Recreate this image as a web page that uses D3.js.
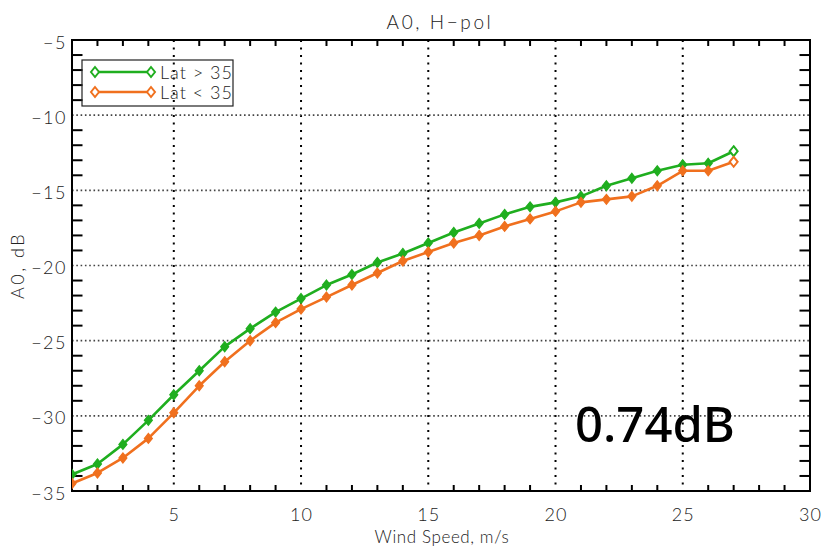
<!DOCTYPE html>
<html>
<head>
<meta charset="utf-8">
<script src="https://cdn.jsdelivr.net/npm/d3@7"></script>
<style>
  html, body { margin: 0; padding: 0; background: #fff; }
  svg { display: block; }
  text { font-family: "Lato", "Liberation Sans", sans-serif; font-weight: 300; fill: #222; }
</style>
</head>
<body>
<div id="chart"></div>
<script>
// ---- data ----
const windSpeed = [1,2,3,4,5,6,7,8,9,10,11,12,13,14,15,16,17,18,19,20,21,22,23,24,25,26,27];
const latAbove35 = [-33.9,-33.2,-31.9,-30.3,-28.6,-27.0,-25.4,-24.2,-23.1,-22.2,-21.3,-20.6,-19.8,-19.2,-18.5,-17.8,-17.2,-16.6,-16.1,-15.8,-15.4,-14.7,-14.2,-13.7,-13.3,-13.2,-12.4];
const latBelow35 = [-34.5,-33.8,-32.8,-31.5,-29.8,-28.0,-26.4,-25.0,-23.8,-22.9,-22.1,-21.3,-20.5,-19.7,-19.1,-18.5,-18.0,-17.4,-16.9,-16.4,-15.8,-15.6,-15.4,-14.7,-13.7,-13.7,-13.1];
const seriesNames = ["Lat > 35", "Lat < 35"];
const seriesColors = ["#1fae1f", "#f0701e"];
const xTicks = [5,10,15,20,25,30];
const yTicks = [-35,-30,-25,-20,-15,-10,-5];
const titleText = "A0, H\u2212pol";
const xLabel = "Wind Speed, m/s";
const yLabel = "A0, dB";
const annotation = "0.74dB";

// ---- layout ----
const W = 825, H = 549;
const L = 72, R = 810, T = 40, B = 491;

const svg = d3.select("#chart").append("svg").attr("width", W).attr("height", H);
svg.append("rect").attr("width", W).attr("height", H).attr("fill", "#fff");

const x = d3.scaleLinear().domain([1, 30]).range([L, R]);
const y = d3.scaleLinear().domain([-35, -5]).range([B, T]);

// grid lines (dotted)
const gx = [5,10,15,20,25];
const gy = [-30,-25,-20,-15,-10];
svg.append("g").selectAll("line").data(gx).join("line")
  .attr("x1", d => x(d)).attr("x2", d => x(d)).attr("y1", T).attr("y2", B)
  .attr("stroke", "#000").attr("stroke-width", 2).attr("stroke-dasharray", "2,5.5");
svg.append("g").selectAll("line").data(gy).join("line")
  .attr("x1", L).attr("x2", R).attr("y1", d => y(d)).attr("y2", d => y(d))
  .attr("stroke", "#444").attr("stroke-width", 1.6).attr("stroke-dasharray", "1.6,2.7");

// minor ticks
const xMinor = d3.range(2, 30).filter(v => v % 5 !== 0);
const yMinor = d3.range(-34, -5).filter(v => v % 5 !== 0);
const tk = svg.append("g").attr("stroke", "#000").attr("stroke-width", 2);
tk.selectAll(".xb").data(xMinor).join("line")
  .attr("x1", d => x(d)).attr("x2", d => x(d)).attr("y1", B).attr("y2", B - 6);
tk.selectAll(".xt").data(xMinor).join("line")
  .attr("x1", d => x(d)).attr("x2", d => x(d)).attr("y1", T).attr("y2", T + 6);
tk.selectAll(".yl").data(yMinor).join("line")
  .attr("y1", d => y(d)).attr("y2", d => y(d)).attr("x1", L).attr("x2", L + 10.5);
tk.selectAll(".yr").data(yMinor).join("line")
  .attr("y1", d => y(d)).attr("y2", d => y(d)).attr("x1", R).attr("x2", R - 10.5);

// frame
svg.append("rect").attr("x", L).attr("y", T).attr("width", R - L).attr("height", B - T)
  .attr("fill", "none").attr("stroke", "#000").attr("stroke-width", 2);

// axis labels
const xAxis = d3.axisBottom(x).tickValues(xTicks).tickSize(0).tickPadding(0).tickFormat(d3.format("d"));
const xg = svg.append("g").attr("transform", `translate(0,${B})`).call(xAxis);
xg.select(".domain").remove();
xg.selectAll("text").attr("dy", null).attr("y", 30).attr("font-size", 18)
  .style("font-family", "Lato, 'Liberation Sans', sans-serif").style("font-weight", 300)
  .style("letter-spacing", "1px").attr("fill", "#222");

const yAxis = d3.axisLeft(y).tickValues(yTicks).tickSize(0).tickPadding(0)
  .tickFormat(d => d3.format("d")(d).replace("-", "\u2212"));
const yg = svg.append("g").attr("transform", `translate(${L - 5},0)`).call(yAxis);
yg.select(".domain").remove();
yg.selectAll("text").attr("dy", "0.45em").attr("font-size", 18)
  .style("font-family", "Lato, 'Liberation Sans', sans-serif").style("font-weight", 300)
  .style("letter-spacing", "1.5px").attr("fill", "#222");

svg.append("text").attr("x", (L + R) / 2 - 1).attr("y", 29).attr("text-anchor", "middle")
  .attr("font-size", 19).style("letter-spacing", "2.6px").text(titleText);
svg.append("text").attr("x", (L + R) / 2 + 1).attr("y", 543).attr("text-anchor", "middle")
  .attr("font-size", 17).style("letter-spacing", "0.6px").text(xLabel);
svg.append("text").attr("transform", `translate(24,${(T + B) / 2}) rotate(-90)`)
  .attr("text-anchor", "middle").attr("font-size", 18).style("letter-spacing", "2.5px").text(yLabel);

// data
svg.append("clipPath").attr("id", "plotclip").append("rect")
  .attr("x", L).attr("y", T).attr("width", R - L).attr("height", B - T);
const plot = svg.append("g").attr("clip-path", "url(#plotclip)");

const diamond = (cx, cy, hw, hh) => `M${cx},${cy - hh}L${cx + hw},${cy}L${cx},${cy + hh}L${cx - hw},${cy}Z`;
const line = d3.line().x(d => x(d[0])).y(d => y(d[1]));
const allSeries = [latAbove35, latBelow35];

allSeries.forEach((vals, i) => {
  const pts = windSpeed.map((w, j) => [w, vals[j]]);
  plot.append("path").datum(pts).attr("d", line)
    .attr("fill", "none").attr("stroke", seriesColors[i]).attr("stroke-width", 2.6)
    .attr("stroke-linejoin", "round");
  plot.selectAll(null).data(pts.slice(0, -1)).join("path")
    .attr("d", d => diamond(x(d[0]), y(d[1]), 4, 5))
    .attr("fill", seriesColors[i]).attr("stroke", seriesColors[i]).attr("stroke-width", 1.2);
  const last = pts[pts.length - 1];
  plot.append("path").attr("d", diamond(x(last[0]), y(last[1]), 4, 5))
    .attr("fill", "#fff").attr("stroke", seriesColors[i]).attr("stroke-width", 2);
});

// legend
const lg = svg.append("g");
lg.append("rect").attr("x", 82).attr("y", 60).attr("width", 151).attr("height", 46)
  .attr("fill", "none").attr("stroke", "#222").attr("stroke-width", 1.2);
seriesNames.forEach((name, i) => {
  const ly = 72 + i * 20;
  lg.append("line").attr("x1", 95).attr("x2", 151).attr("y1", ly).attr("y2", ly)
    .attr("stroke", seriesColors[i]).attr("stroke-width", 2.6);
  [95, 151].forEach(cx => {
    lg.append("path").attr("d", diamond(cx, ly, 4, 5))
      .attr("fill", "#fff").attr("stroke", seriesColors[i]).attr("stroke-width", 2);
  });
  lg.append("text").attr("x", 160).attr("y", ly).attr("dy", "0.4em")
    .attr("font-size", 18).style("letter-spacing", "1px").text(name);
});

// annotation
svg.append("text").attr("x", 575).attr("y", 442).attr("font-size", 49)
  .style("font-family", "'Noto Sans', 'Open Sans', sans-serif").style("font-weight", 500)
  .style("fill", "#000").text(annotation);
</script>
</body>
</html>
